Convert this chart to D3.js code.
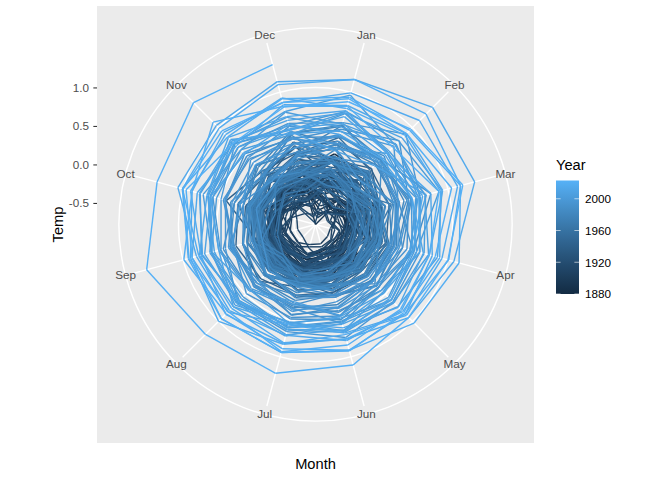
<!DOCTYPE html>
<html><head><meta charset="utf-8">
<script src="https://cdn.jsdelivr.net/npm/d3@7"></script>
<style>body{margin:0;background:#fff} text{font-family:"Liberation Sans",Arial,Helvetica,sans-serif}</style>
</head><body><svg id="c" width="672" height="480"></svg>
<script>
const months = ["Jan","Feb","Mar","Apr","May","Jun","Jul","Aug","Sep","Oct","Nov","Dec"];
const years = [1880,1881,1882,1883,1884,1885,1886,1887,1888,1889,1890,1891,1892,1893,1894,1895,1896,1897,1898,1899,
1900,1901,1902,1903,1904,1905,1906,1907,1908,1909,1910,1911,1912,1913,1914,1915,1916,1917,1918,1919,
1920,1921,1922,1923,1924,1925,1926,1927,1928,1929,1930,1931,1932,1933,1934,1935,1936,1937,1938,1939,
1940,1941,1942,1943,1944,1945,1946,1947,1948,1949,1950,1951,1952,1953,1954,1955,1956,1957,1958,1959,
1960,1961,1962,1963,1964,1965,1966,1967,1968,1969,1970,1971,1972,1973,1974,1975,1976,1977,1978,1979,
1980,1981,1982,1983,1984,1985,1986,1987,1988,1989,1990,1991,1992,1993,1994,1995,1996,1997,1998,1999,
2000,2001,2002,2003,2004,2005,2006,2007,2008,2009,2010,2011,2012,2013,2014,2015,2016,2017,2018,2019,
2020,2021,2022,2023];
const temps = [
[-.18,-.24,-.08,-.16,-.09,-.20,-.18,-.09,-.14,-.23,-.21,-.17],
[-.19,-.14,.04,.05,.07,-.18,.01,-.03,-.15,-.22,-.18,-.07],
[.17,.14,.05,-.16,-.14,-.22,-.16,-.07,-.14,-.23,-.16,-.36],
[-.29,-.36,-.12,-.18,-.17,-.07,-.07,-.13,-.22,-.11,-.24,-.11],
[-.13,-.07,-.36,-.40,-.33,-.35,-.31,-.27,-.27,-.24,-.33,-.31],
[-.58,-.33,-.26,-.42,-.44,-.42,-.33,-.31,-.28,-.23,-.23,-.10],
[-.43,-.50,-.41,-.28,-.27,-.38,-.19,-.30,-.23,-.26,-.29,-.25],
[-.65,-.47,-.34,-.36,-.31,-.24,-.26,-.35,-.25,-.35,-.26,-.33],
[-.42,-.36,-.40,-.27,-.22,-.19,-.10,-.11,-.07,.03,-.04,-.04],
[-.08,.17,.07,.11,-.01,-.09,-.07,-.20,-.23,-.26,-.33,-.29],
[-.47,-.45,-.40,-.36,-.45,-.25,-.31,-.39,-.36,-.25,-.46,-.31],
[-.45,-.48,-.20,-.24,-.15,-.21,-.19,-.20,-.14,-.23,-.38,-.04],
[-.26,-.13,-.37,-.34,-.26,-.24,-.34,-.28,-.20,-.16,-.46,-.41],
[-.78,-.55,-.29,-.32,-.35,-.26,-.15,-.26,-.21,-.20,-.26,-.36],
[-.53,-.31,-.23,-.42,-.35,-.44,-.34,-.32,-.28,-.24,-.29,-.23],
[-.44,-.46,-.30,-.23,-.26,-.22,-.17,-.13,-.12,-.17,-.15,-.19],
[-.22,-.13,-.27,-.30,-.14,-.04,.00,-.04,-.05,.05,-.14,-.06],
[-.14,-.16,-.15,-.03,-.01,-.10,-.04,-.06,-.05,-.13,-.21,-.23],
[-.06,-.33,-.53,-.32,-.33,-.22,-.21,-.24,-.18,-.30,-.33,-.22],
[-.15,-.37,-.33,-.19,-.22,-.27,-.14,-.03,-.01,-.05,.07,-.28],
[-.37,-.08,-.02,-.07,-.07,-.07,-.10,-.09,-.05,.04,-.07,-.12],
[-.21,-.07,.05,-.02,-.13,-.14,-.15,-.19,-.21,-.28,-.15,-.26],
[-.14,-.01,-.25,-.27,-.32,-.38,-.27,-.31,-.28,-.32,-.40,-.46],
[-.23,-.07,-.21,-.36,-.38,-.45,-.37,-.46,-.44,-.46,-.42,-.52],
[-.62,-.55,-.51,-.58,-.56,-.52,-.51,-.45,-.45,-.34,-.18,-.40],
[-.31,-.55,-.25,-.34,-.29,-.29,-.22,-.22,-.18,-.23,-.09,-.17],
[-.27,-.32,-.10,-.06,-.24,-.18,-.21,-.16,-.29,-.26,-.43,-.19],
[-.40,-.55,-.32,-.42,-.48,-.44,-.37,-.38,-.30,-.25,-.48,-.40],
[-.42,-.35,-.58,-.45,-.40,-.38,-.37,-.43,-.33,-.44,-.48,-.49],
[-.69,-.46,-.50,-.56,-.50,-.48,-.48,-.37,-.37,-.38,-.35,-.54],
[-.40,-.43,-.48,-.42,-.36,-.39,-.34,-.36,-.38,-.45,-.58,-.64],
[-.62,-.58,-.60,-.52,-.49,-.44,-.39,-.41,-.38,-.25,-.28,-.25],
[-.28,-.16,-.37,-.17,-.21,-.25,-.46,-.55,-.54,-.53,-.39,-.42],
[-.43,-.46,-.45,-.36,-.41,-.45,-.34,-.30,-.33,-.31,-.18,-.06],
[.05,-.10,-.23,-.28,-.20,-.25,-.24,-.15,-.17,-.04,-.13,-.06],
[-.20,-.03,-.09,.04,-.06,-.18,-.06,-.22,-.16,-.24,-.12,-.23],
[-.13,-.18,-.32,-.27,-.34,-.46,-.34,-.27,-.31,-.32,-.42,-.76],
[-.57,-.60,-.62,-.46,-.46,-.38,-.22,-.20,-.23,-.44,-.37,-.68],
[-.42,-.32,-.20,-.38,-.38,-.33,-.26,-.28,-.16,-.03,-.09,-.28],
[-.22,-.24,-.19,-.12,-.30,-.34,-.28,-.32,-.25,-.20,-.39,-.43],
[-.23,-.24,-.08,-.29,-.28,-.35,-.28,-.26,-.19,-.25,-.31,-.42],
[-.05,-.20,-.25,-.30,-.28,-.25,-.10,-.21,-.14,-.04,-.15,-.20],
[-.36,-.46,-.16,-.27,-.33,-.26,-.24,-.36,-.27,-.29,-.13,-.22],
[-.25,-.36,-.27,-.35,-.30,-.21,-.26,-.33,-.27,-.09,.04,-.04],
[-.21,-.09,-.06,-.25,-.16,-.29,-.23,-.31,-.30,-.30,-.20,-.44],
[-.29,-.23,-.12,-.17,-.22,-.29,-.20,-.11,-.15,-.13,.05,.09],
[.05,-.01,.09,-.11,-.18,-.24,-.20,-.11,-.10,-.07,-.09,-.29],
[-.23,-.13,-.28,-.28,-.19,-.26,-.16,-.20,-.11,.00,-.05,-.33],
[-.03,-.07,-.29,-.28,-.27,-.35,-.18,-.19,-.19,-.17,-.16,-.18],
[-.45,-.58,-.32,-.38,-.35,-.40,-.33,-.29,-.22,-.19,-.12,-.52],
[-.27,-.15,-.04,-.20,-.21,-.19,-.16,-.11,-.10,-.05,.07,-.18],
[-.08,-.18,-.06,-.17,-.14,-.04,.00,-.03,-.04,-.01,-.08,-.03],
[.12,-.19,-.18,-.10,-.18,-.24,-.17,-.13,-.05,-.07,-.24,-.21],
[-.25,-.35,-.27,-.16,-.19,-.30,-.17,-.18,-.23,-.18,-.35,-.45],
[-.22,-.02,-.28,-.26,-.11,-.11,-.08,-.05,-.13,-.08,-.03,-.05],
[-.29,.05,-.20,-.33,-.29,-.22,-.18,-.16,-.21,-.13,-.29,-.19],
[-.25,-.37,-.21,-.20,-.16,-.15,-.07,-.11,-.11,-.05,-.03,-.02],
[-.10,.00,-.21,-.08,-.04,-.05,-.02,.03,.07,.09,.04,-.13],
[.06,.07,.11,.10,-.07,-.13,-.08,-.01,.03,.15,.05,-.25],
[-.03,-.04,-.18,-.08,-.07,-.07,-.02,-.04,-.03,-.04,.09,.28],
[-.12,.03,.09,.06,.06,.08,.10,.04,.13,.10,.13,.33],
[.09,.25,.08,.21,.16,.13,.20,.15,.01,.42,.20,.18],
[.23,.04,.08,.08,.05,.02,.02,-.03,-.05,.05,.08,.10],
[-.01,.20,-.08,.09,.01,-.09,.03,.00,.04,.26,.16,.25],
[.34,.24,.21,.17,.13,.13,.17,.22,.29,.26,.13,.01],
[.09,-.07,.06,.16,.02,-.02,.06,.26,.20,.16,.01,-.18],
[.14,-.03,-.02,.06,-.12,-.22,-.08,-.10,-.05,-.08,-.04,-.30],
[-.07,-.14,.02,.03,-.07,.02,-.07,-.09,-.11,.09,.04,-.11],
[.06,-.13,-.21,-.06,.01,-.09,-.11,-.11,-.10,-.08,-.12,-.23],
[.07,-.13,-.06,-.09,-.07,-.20,-.12,-.08,-.09,-.06,-.07,-.20],
[-.32,-.28,-.09,-.20,-.14,-.05,-.10,-.17,-.12,-.21,-.34,-.22],
[-.36,-.46,-.21,-.10,.00,-.04,.01,.08,.05,.06,-.09,.14],
[.12,.13,-.09,.01,-.07,-.03,.03,.07,.07,-.04,-.15,-.02],
[.07,.13,.08,.19,.07,.05,.03,.05,.05,.05,-.04,.07],
[-.28,-.07,-.15,-.19,-.20,-.18,-.17,-.16,-.10,-.02,.06,-.21],
[.14,-.19,-.35,-.23,-.23,-.12,-.14,-.03,-.13,-.04,-.27,-.36],
[-.16,-.27,-.20,-.29,-.22,-.13,-.13,-.20,-.23,-.28,-.20,-.16],
[-.12,-.05,-.07,.01,.07,.16,.00,.14,.07,.04,.07,.17],
[.39,.22,.09,.03,.04,-.07,.05,-.04,-.05,.03,.03,-.01],
[.06,.06,.15,.09,-.02,.02,.00,.00,-.06,-.05,-.10,-.01],
[-.04,.12,-.31,-.16,-.12,-.04,-.02,.01,.06,.04,-.13,.16],
[.06,.17,.08,.12,.12,.10,.01,.01,.04,.01,.03,-.16],
[.06,.13,.05,.00,.00,.04,.01,.02,.01,.00,.04,-.01],
[-.04,.17,-.14,-.07,-.06,.04,.05,.07,.14,.11,.12,-.08],
[-.08,-.14,-.20,-.26,-.19,-.10,-.06,-.20,-.27,-.30,-.22,-.31],
[-.07,-.16,-.12,-.18,-.12,-.05,-.12,-.06,-.13,-.06,-.07,-.08],
[-.16,-.03,.00,-.15,-.11,-.03,.02,-.10,-.02,-.15,-.07,-.03],
[-.06,-.21,.01,-.05,.06,-.11,-.02,.00,-.05,.05,-.05,-.04],
[-.25,-.17,.24,-.01,-.05,-.06,-.09,-.06,-.11,.08,-.07,-.11],
[-.11,-.09,.01,.17,.16,.05,-.03,-.02,.05,.04,.18,.27],
[.07,.20,.02,.09,-.05,-.03,.01,-.10,.06,.01,.05,-.10],
[-.03,-.19,-.18,-.09,-.08,-.19,-.11,-.01,-.02,-.03,-.03,-.08],
[-.25,-.17,.01,-.02,-.04,.05,.03,.16,-.02,.09,.04,.16],
[.29,.32,.31,.27,.25,.18,.11,.06,.05,.07,.05,-.04],
[-.14,-.23,-.05,-.08,-.03,-.07,-.05,.03,-.03,-.14,-.07,-.11],
[.05,.04,.06,.04,.07,-.05,-.04,-.21,-.01,-.06,-.12,-.17],
[-.02,-.13,-.24,-.09,-.20,-.15,-.09,-.14,-.07,-.24,-.04,.04],
[.14,.18,.21,.25,.26,.20,.18,.13,-.01,.00,.21,.04],
[.05,.11,.12,.10,.02,-.08,.03,-.17,.08,-.02,.14,.06],
[.09,-.09,.16,.03,-.02,.11,.03,.13,.19,.19,.27,.47],
[.30,.42,.30,.31,.34,.17,.24,.25,.19,.13,.30,.19],
[.55,.41,.47,.33,.24,.30,.34,.36,.14,.10,.17,.42],
[.04,.15,-.02,.10,.15,.06,.12,.03,.14,.12,.14,.44],
[.54,.43,.41,.27,.35,.18,.17,.30,.37,.19,.31,.19],
[.29,.13,.26,.07,.31,.02,.14,.16,.20,.14,.06,-.07],
[.23,-.07,.16,.07,.13,.10,.00,.14,.10,.10,.05,.10],
[.26,.37,.27,.22,.18,.10,.05,.13,.04,.10,.07,.13],
[.31,.43,.08,.20,.27,.34,.44,.26,.37,.31,.22,.45],
[.56,.33,.51,.39,.38,.40,.32,.35,.34,.36,.15,.32],
[.11,.33,.33,.28,.17,.16,.30,.33,.33,.26,.16,.31],
[.40,.42,.77,.54,.43,.38,.43,.33,.31,.44,.48,.39],
[.40,.48,.34,.53,.37,.50,.49,.42,.46,.31,.31,.30],
[.43,.40,.45,.22,.27,.17,.07,.07,-.06,.02,-.04,.17],
[.34,.36,.35,.24,.21,.20,.21,.12,.07,.24,.02,.15],
[.24,.03,.29,.39,.26,.45,.28,.26,.36,.43,.52,.37],
[.50,.76,.47,.45,.32,.45,.47,.49,.32,.46,.43,.31],
[.25,.44,.29,.29,.27,.26,.39,.35,.19,.19,.41,.37],
[.31,.36,.50,.35,.38,.55,.35,.42,.50,.60,.64,.58],
[.59,.88,.62,.62,.64,.74,.66,.65,.43,.43,.45,.54],
[.47,.66,.33,.33,.27,.33,.37,.29,.39,.34,.36,.39],
[.23,.53,.51,.52,.34,.35,.30,.40,.35,.23,.32,.25],
[.42,.38,.57,.50,.56,.52,.59,.62,.49,.49,.70,.55],
[.74,.75,.88,.58,.61,.53,.61,.55,.62,.55,.59,.43],
[.71,.55,.58,.55,.61,.48,.54,.66,.62,.73,.59,.73],
[.57,.69,.63,.62,.43,.44,.26,.44,.52,.63,.71,.49],
[.72,.57,.70,.68,.66,.67,.64,.62,.75,.77,.73,.66],
[.53,.70,.60,.49,.46,.65,.53,.70,.62,.66,.71,.74],
[.96,.68,.69,.74,.65,.56,.61,.58,.64,.60,.54,.47],
[.21,.30,.71,.49,.48,.46,.55,.42,.61,.64,.64,.51],
[.58,.50,.52,.58,.61,.64,.70,.67,.71,.63,.75,.62],
[.72,.81,.92,.86,.73,.64,.63,.64,.58,.67,.78,.44],
[.48,.45,.61,.62,.47,.55,.72,.73,.52,.63,.52,.57],
[.43,.43,.52,.67,.74,.61,.55,.63,.74,.78,.76,.49],
[.67,.54,.66,.53,.58,.66,.56,.73,.78,.68,.82,.67],
[.75,.53,.77,.79,.87,.68,.57,.83,.88,.81,.67,.83],
[.82,.89,.93,.75,.80,.78,.71,.80,.82,1.07,1.04,1.14],
[1.17,1.37,1.36,1.08,.93,.76,.83,1.00,.90,.88,.91,.86],
[.99,1.13,1.13,.92,.89,.70,.82,.87,.76,.90,.87,.92],
[.78,.86,.90,.89,.82,.76,.81,.76,.79,1.01,.83,.91],
[.93,.95,1.17,1.01,.86,.91,.94,.95,.93,1.01,.99,1.10],
[1.17,1.25,1.17,1.15,1.03,.91,.89,.86,.99,.88,1.10,.81],
[.81,.64,.88,.75,.78,.84,.93,.82,.92,1.00,.94,.86],
[.91,.89,1.05,.83,.84,.92,.94,.95,.88,.96,.72,.80],
[.87,.97,1.20,1.00,.93,1.11,1.22,1.24,1.49,1.35,1.46,1.37]
];
const rBreaks = [-0.5, 0, 0.5, 1.0];
const legendBreaks = [1880, 1920, 1960, 2000];

const svg = d3.select("#c");
const FONT = '"Liberation Sans",Arial,Helvetica,sans-serif';
const P = {x: 97, y: 6, s: 437};
const cx = P.x + P.s / 2, cy = P.y + P.s / 2;

svg.append("rect").attr("width", 672).attr("height", 480).attr("fill", "#FFFFFF");
svg.append("rect").attr("x", P.x).attr("y", P.y).attr("width", P.s).attr("height", P.s).attr("fill", "#EBEBEB");

const all = temps.flat();
const r = d3.scaleLinear().domain(d3.extent(all)).range([0, 0.4 * P.s]);
const theta = d3.scaleBand().domain(months).range([0, 2 * Math.PI]).padding(0);
const ang = m => theta(m) + theta.bandwidth() / 2;
const color = d3.scaleLinear().domain(d3.extent(years)).range(["#132B43", "#56B1F7"]).interpolate(d3.interpolateLab);
const px = (m, rr) => cx + rr * Math.sin(ang(m));
const py = (m, rr) => cy - rr * Math.cos(ang(m));

// grid
const grid = svg.append("g");
grid.selectAll("circle").data(rBreaks.map(d => r(d)).concat([0.45 * P.s])).enter().append("circle")
  .attr("cx", cx).attr("cy", cy).attr("r", d => d).attr("fill", "none").attr("stroke", "#FFFFFF").attr("stroke-width", 1.42);
grid.selectAll("line").data(months).enter().append("line")
  .attr("x1", cx).attr("y1", cy)
  .attr("x2", m => px(m, 0.43 * P.s)).attr("y2", m => py(m, 0.43 * P.s))
  .attr("stroke", "#FFFFFF").attr("stroke-width", 1.42);

// data path (chronological), each segment coloured by its starting year
const pts = [];
years.forEach((y, i) => months.forEach((m, j) => pts.push({year: y, month: m, t: temps[i][j]})));
const segs = d3.pairs(pts);
svg.append("g").selectAll("line").data(segs).enter().append("line")
  .attr("x1", d => px(d[0].month, r(d[0].t))).attr("y1", d => py(d[0].month, r(d[0].t)))
  .attr("x2", d => px(d[1].month, r(d[1].t))).attr("y2", d => py(d[1].month, r(d[1].t)))
  .attr("stroke", d => color(d[0].year)).attr("stroke-width", 1.42).attr("stroke-linecap", "butt");

// month labels
svg.append("g").selectAll("text").data(months).enter().append("text")
  .attr("x", m => px(m, 0.45 * P.s)).attr("y", m => py(m, 0.45 * P.s) + 4)
  .attr("text-anchor", "middle").attr("font-size", 11.7).attr("fill", "#4D4D4D")
  .style("font-family", FONT).text(m => m);

// radial axis on the left
const yAx = d3.scaleLinear().domain(r.domain()).range([cy, cy - 0.4 * P.s]);
const ax = svg.append("g").attr("transform", `translate(${P.x},0)`)
  .call(d3.axisLeft(yAx).tickValues(rBreaks).tickFormat(d => d.toFixed(1)).tickSize(3.67).tickPadding(4.4));
ax.select(".domain").remove();
ax.selectAll(".tick line").attr("stroke", "#333333").attr("stroke-width", 1.07);
ax.selectAll(".tick text").attr("fill", "#4D4D4D").attr("font-size", 11.7).style("font-family", FONT);

// axis titles
svg.append("text").attr("x", cx).attr("y", 469).attr("text-anchor", "middle")
  .attr("font-size", 14.67).attr("fill", "#000").style("font-family", FONT).text("Month");
svg.append("text").attr("transform", `translate(63,${cy}) rotate(-90)`).attr("text-anchor", "middle")
  .attr("font-size", 14.67).attr("fill", "#000").style("font-family", FONT).text("Temp");

// legend
const lg = {x: 556, w: 23, top: 180.5, bottom: 294};
const ly = d3.scaleLinear().domain(d3.extent(years)).range([lg.bottom, lg.top]);
const defs = svg.append("defs");
const grad = defs.append("linearGradient").attr("id", "yeargrad").attr("x1", 0).attr("y1", 1).attr("x2", 0).attr("y2", 0);
const yExt = d3.extent(years);
grad.selectAll("stop").data(d3.range(21)).enter().append("stop")
  .attr("offset", k => k / 20)
  .attr("stop-color", k => color(yExt[0] + (yExt[1] - yExt[0]) * k / 20));
svg.append("text").attr("x", lg.x).attr("y", 170).attr("font-size", 14.67).attr("fill", "#000")
  .style("font-family", FONT).text("Year");
svg.append("rect").attr("x", lg.x).attr("y", lg.top).attr("width", lg.w).attr("height", lg.bottom - lg.top)
  .attr("fill", "url(#yeargrad)");
const lt = svg.append("g");
legendBreaks.forEach(b => {
  lt.append("line").attr("x1", lg.x).attr("x2", lg.x + lg.w / 5).attr("y1", ly(b)).attr("y2", ly(b))
    .attr("stroke", "#FFFFFF").attr("stroke-opacity", 0.6).attr("stroke-width", 1);
  lt.append("line").attr("x1", lg.x + lg.w * 4 / 5).attr("x2", lg.x + lg.w).attr("y1", ly(b)).attr("y2", ly(b))
    .attr("stroke", "#FFFFFF").attr("stroke-opacity", 0.6).attr("stroke-width", 1);
});
const la = svg.append("g").attr("transform", `translate(${lg.x + lg.w},0)`)
  .call(d3.axisRight(ly).tickValues(legendBreaks).tickFormat(d3.format("d")).tickSize(0).tickPadding(6));
la.select(".domain").remove();
la.selectAll(".tick text").attr("fill", "#000").attr("font-size", 11.7).style("font-family", FONT);
</script></body></html>
